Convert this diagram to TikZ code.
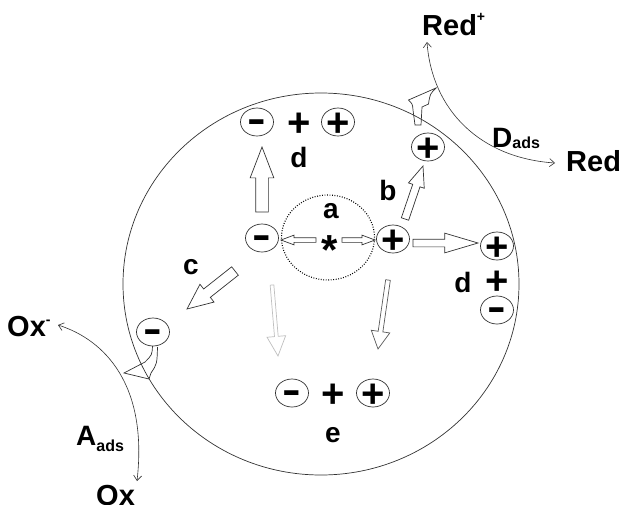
\documentclass[tikz,border=0pt]{standalone}
\usepackage{fontspec}
\usepackage{graphicx}
\setmainfont{Liberation Sans}
\usetikzlibrary{shapes.geometric,shapes.arrows,arrows.meta,calc}
\newcommand\pl{\makebox[0pt]{\raisebox{-0.35em}[0pt][0pt]{+}}}
\newcommand\mn{\makebox[0pt]{\raisebox{-0.26em}[0pt][0pt]{\scalebox{1.4}[1]{-}}}}
\newcommand\supr[2]{\raisebox{#1}{\fontsize{14}{14}\selectfont #2}}
\newcommand\subr[2]{\raisebox{#1}{\fontsize{16}{16}\selectfont #2}}
\newcommand\hollowarrow[3][]{\path let \p1=($(#3)-(#2)$), \n1={veclen(\x1,\y1)}, \n2={atan2(\y1,\x1)} in node[harrow, anchor=tail, rotate=\n2, minimum height=\n1, #1] at (#2) {};}
\tikzset{
  outl/.style={draw=black!80, line width=0.7pt},
  particle/.style={ellipse, outl, minimum width=396pt, minimum height=382pt, inner sep=0pt},
  dotc/.style={ellipse, draw=black, line width=1.1pt, dash pattern=on 0.9pt off 1.6pt, minimum width=93pt, minimum height=85pt, inner sep=0pt},
  chg/.style={ellipse, outl, fill=white, minimum width=33pt, minimum height=28pt, inner sep=0pt, font=\bfseries\fontsize{40}{40}\selectfont},
  sign/.style={inner sep=0pt, font=\bfseries\fontsize{40}{40}\selectfont},
  lbl/.style={inner sep=0pt, font=\bfseries\fontsize{28}{28}\selectfont},
  big/.style={inner sep=0pt, anchor=base west, font=\bfseries\fontsize{29}{29}\selectfont},
  harrow/.style={single arrow, outl, fill=white, inner xsep=0pt, outer sep=0pt, single arrow head indent=0pt},
  thinarr/.style={draw=black!80, line width=0.6pt, {Straight Barb[length=5pt,width=8pt]}-{Straight Barb[length=5pt,width=8pt]}},
  hol/.style={outl}
}
\begin{document}
\begin{tikzpicture}[x=1pt, y=-1pt]
\useasboundingbox (0,0) rectangle (624,504);
% particle and excitation region
\node[particle] (P) at (321,284) {};
\node[dotc] (Q) at (328,237.5) {};
% external reaction curves
\coordinate (rd1) at (427,42);
\coordinate (rd2) at (555,163);
\draw[thinarr] (rd1) .. controls (432,110) and (480,158) .. (rd2);
\coordinate (ox1) at (58,325);
\coordinate (ox2) at (137,481);
\draw[thinarr] (ox1) .. controls (105,340) and (148,385) .. (ox2);
% curved hollow arrows to the surface
\draw[hol] (415,125) -- (413,110) .. controls (412.5,104) .. (408.5,100) -- (436,88) .. controls (430,94) .. (428.5,104) -- (422,107) -- (421,125) -- cycle;
\draw[hol] (152.5,346) .. controls (152,355) .. (145,362) -- (124,373) -- (149,379) -- (151,373) .. controls (157,364) .. (157.5,347);
% charges
\node[chg] (nm) at (262,238) {\mn};
\node[chg] (np) at (393,239) {\pl};
\node[sign, font=\bfseries\fontsize{42}{42}\selectfont] (star) at (330,241) {\makebox[0pt]{\raisebox{-0.57em}[0pt][0pt]{*}}};
\node[lbl] (la) at (331,211) {a};
\node[chg] (tm) at (257,122) {\mn};
\node[sign] (tplus) at (299,122) {\pl};
\node[chg] (tp) at (338,122) {\pl};
\node[lbl] (ld1) at (299,157) {d};
\node[lbl] (lb) at (388,190) {b};
\node[chg] (bp) at (428,147) {\pl};
\node[chg] (rp) at (497,246) {\pl};
\node[lbl] (ld2) at (463,282) {d};
\node[sign] (rplus) at (497,280) {\pl};
\node[chg] (rm) at (497,310) {\mn};
\node[lbl] (lc) at (191,267) {c};
\node[chg] (lm) at (153,332) {\mn};
\node[chg] (em) at (292,393) {\mn};
\node[sign] (eplus) at (333,393) {\pl};
\node[chg] (ep) at (373,393) {\pl};
\node[lbl] (le) at (333,435) {e};
% hollow arrows
\coordinate (u1) at (262,212); \coordinate (u2) at (262,147);
\coordinate (b1) at (405,219); \coordinate (b2) at (423,166);
\coordinate (r1) at (413,243); \coordinate (r2) at (478,243);
\coordinate (c1) at (235,271); \coordinate (c2) at (187,309);
\coordinate (s1) at (316,240); \coordinate (s2) at (281,240);
\coordinate (s3) at (342,240); \coordinate (s4) at (375,240);
\coordinate (g1) at (272,285); \coordinate (g2) at (278,356);
\coordinate (k1) at (388,280); \coordinate (k2) at (378,349);
\hollowarrow[inner ysep=6pt, single arrow head extend=5.5pt, single arrow tip angle=42]{u1}{u2}
\hollowarrow[inner ysep=3.5pt, single arrow head extend=4.5pt, single arrow tip angle=44]{b1}{b2}
\hollowarrow[inner ysep=3.5pt, single arrow head extend=6pt, single arrow tip angle=33]{r1}{r2}
\hollowarrow[inner ysep=5pt, single arrow head extend=6pt, single arrow tip angle=48]{c1}{c2}
\hollowarrow[inner ysep=2pt, single arrow head extend=2.5pt, single arrow tip angle=41]{s1}{s2}
\hollowarrow[inner ysep=2pt, single arrow head extend=2.5pt, single arrow tip angle=41]{s3}{s4}
\hollowarrow[draw=black!25, inner ysep=1.5pt, single arrow head extend=7.5pt, single arrow tip angle=51]{g1}{g2}
\hollowarrow[draw=black!65, inner ysep=2pt, single arrow head extend=7pt, single arrow tip angle=56]{k1}{k2}
% species labels
\node[big] (redp) at (422,35) {Red\supr{14pt}{+}};
\node[big] (red) at (566,171) {Red};
\node[big, font=\bfseries\fontsize{28}{28}\selectfont] (dads) at (492,147) {D\subr{-1pt}{ads}};
\node[big, font=\bfseries\fontsize{28}{28}\selectfont] (aads) at (76,445) {A\subr{-6pt}{ads}};
\node[big] (oxm) at (7,336) {Ox\supr{12pt}{-}};
\node[big] (ox) at (96,505) {Ox};
\end{tikzpicture}
\end{document}
